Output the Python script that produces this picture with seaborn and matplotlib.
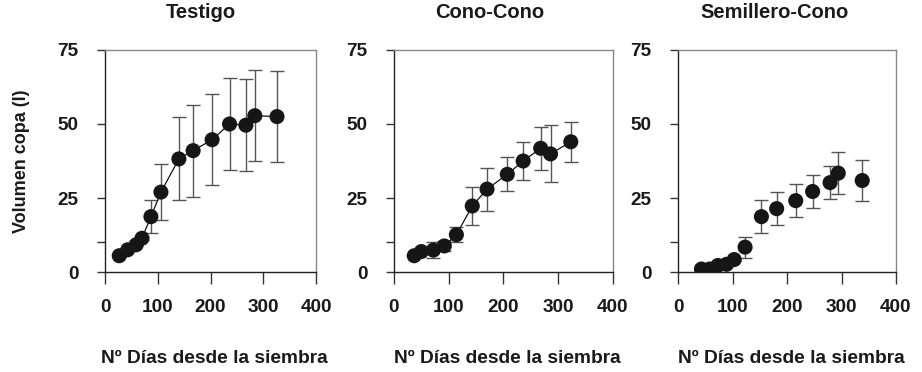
import numpy as np
import pandas as pd
import matplotlib
matplotlib.use("Agg")
import matplotlib.pyplot as plt
import seaborn as sns

# Testigo
dias_testigo = [27, 43, 59, 70, 87, 106, 140, 167, 203, 236, 267, 284, 326]
vol_testigo = [5.5, 7.5, 9.2, 11.4, 18.7, 27.0, 38.2, 41.0, 44.7, 50.0, 49.6, 52.8, 52.5]
sd_testigo = [0.5, 0.5, 0.5, 0.5, 5.5, 9.5, 14.0, 15.5, 15.4, 15.5, 15.5, 15.4, 15.5]

# Cono-Cono
dias_cono = [37, 50, 72, 92, 114, 143, 170, 207, 236, 268, 286, 323]
vol_cono = [5.5, 6.9, 7.4, 8.8, 12.6, 22.3, 28.0, 33.0, 37.5, 41.8, 39.9, 44.0]
sd_cono = [0.5, 0.5, 2.6, 1.8, 2.5, 6.4, 7.3, 5.7, 6.5, 7.2, 9.6, 6.7]

# Semillero-Cono
dias_semi = [43, 58, 73, 89, 103, 123, 153, 181, 216, 247, 279, 294, 338]
vol_semi = [1.0, 1.0, 2.2, 2.6, 4.2, 8.4, 18.7, 21.4, 24.1, 27.2, 30.2, 33.4, 30.9]
sd_semi = [0.5, 0.5, 0.5, 0.5, 0.5, 3.5, 5.6, 5.5, 5.6, 5.6, 5.6, 7.2, 7.0]

titulos = ["Testigo", "Cono-Cono", "Semillero-Cono"]
con_linea = [True, True, False]

sns.set_style("ticks")
plt.rcParams["font.family"] = ["Liberation Sans", "DejaVu Sans"]
plt.rcParams["font.weight"] = "bold"
txt = "#1a1a1a"

fig = plt.figure(figsize=(9.22, 3.72), dpi=100)
posiciones = [[0.1139, 0.2688, 0.2289, 0.5968],
              [0.4273, 0.2688, 0.2375, 0.5968],
              [0.7354, 0.2688, 0.2364, 0.5968]]
titulo_x = [201, 490, 775]

paneles = [(dias_testigo, vol_testigo, sd_testigo),
           (dias_cono, vol_cono, sd_cono),
           (dias_semi, vol_semi, sd_semi)]

for i, (dias, vol, sd) in enumerate(paneles):
    ax = fig.add_axes(posiciones[i])
    df = pd.DataFrame({"dias": dias, "vol": vol, "sd": sd})

    eb = ax.errorbar(df.dias, df.vol, yerr=df.sd, fmt="none", ecolor="#555555",
                     elinewidth=1.0, capsize=4.8, capthick=1.0, zorder=1)
    for cap in eb[1]:
        cap.set_color("#222222")
    if con_linea[i]:
        sns.lineplot(data=df, x="dias", y="vol", color="#111111", linewidth=0.9,
                     ax=ax, zorder=2, legend=False)
    sns.scatterplot(data=df, x="dias", y="vol", color="#161616", s=118,
                    edgecolor="none", ax=ax, zorder=3, legend=False)

    ax.set_xlim(0, 400)
    ax.set_ylim(0, 75)
    ax.set_xticks([0, 100, 200, 300, 400])
    ax.set_yticks([0, 10, 25, 50, 75])
    ax.set_yticklabels(["0", "", "25", "50", "75"])
    ax.tick_params(axis="x", direction="out", length=8.6, width=1, pad=11,
                   labelsize=13.7, colors="#333333", labelcolor=txt)
    ax.tick_params(axis="y", direction="out", length=6, width=1, pad=13,
                   labelsize=13.7, colors="#333333", labelcolor=txt)
    for lab in ax.get_xticklabels() + ax.get_yticklabels():
        lab.set_fontweight("bold")

    for s in ["left", "bottom"]:
        ax.spines[s].set_color("#222222")
        ax.spines[s].set_linewidth(1)
    for s in ["top", "right"]:
        ax.spines[s].set_color("#888888")
        ax.spines[s].set_linewidth(1)

    ax.set_xlabel("Nº Días desde la siembra", fontsize=13.8, fontweight="bold",
                  color=txt, labelpad=24)
    ax.xaxis.label.set_x(0.5 + 4 / 215)
    if i == 0:
        ax.set_ylabel("Volumen copa (l)", fontsize=13, fontweight="bold",
                      color=txt, labelpad=20)
    else:
        ax.set_ylabel("")

    fig.text(titulo_x[i] / 922, 1 - 13 / 372, titulos[i], ha="center", va="center",
             fontsize=14.5, fontweight="bold", color=txt)

fig.savefig("out.png", dpi=100)
